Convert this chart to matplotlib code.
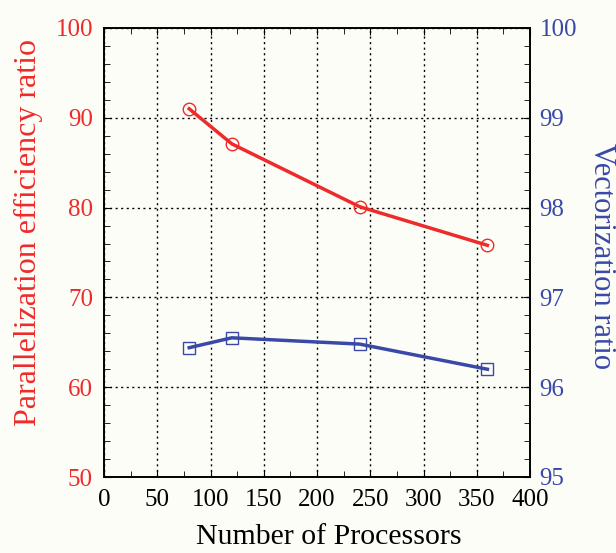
import matplotlib
matplotlib.use("Agg")
import matplotlib.pyplot as plt
from matplotlib.ticker import MultipleLocator

processors = [80, 120, 240, 360]
parallel_eff = [91.0, 87.1, 80.1, 75.8]
vector_ratio = [96.44, 96.55, 96.48, 96.20]

red = '#ee2b2b'
blue = '#3a48a8'
bg = '#fdfdf8'

plt.rcParams['font.family'] = ['Liberation Serif', 'DejaVu Serif']

fig = plt.figure(figsize=(6.16, 5.53), dpi=100, facecolor=bg)
ax = fig.add_axes([104/616, 1-477/553, 426/616, 449/553])
ax.set_facecolor(bg)
ax2 = ax.twinx()

ax.plot(processors, parallel_eff, color=red, lw=2.5, marker='o', ms=9,
        mfc='none', mec=red, mew=1.0, zorder=3)
ax2.plot(processors, vector_ratio, color=blue, lw=2.5, marker='s', ms=9,
         mfc='none', mec=blue, mew=1.0, zorder=3)

ax.set_xlim(0, 400)
ax.set_ylim(50, 100)
ax2.set_ylim(95, 100)

ax.xaxis.set_major_locator(MultipleLocator(50))
ax.xaxis.set_minor_locator(MultipleLocator(25))
ax.yaxis.set_major_locator(MultipleLocator(10))
ax.yaxis.set_minor_locator(MultipleLocator(2))
ax2.yaxis.set_major_locator(MultipleLocator(1))
ax2.yaxis.set_minor_locator(MultipleLocator(0.2))

ax.grid(True, which='major', color='black', linestyle=(0, (1.5, 2.5)), lw=1.0)

ax.tick_params(axis='x', which='both', direction='in', top=True, labelsize=18, pad=9, colors='black')
ax.tick_params(axis='x', which='major', length=5)
ax.tick_params(axis='x', which='minor', length=4)
ax.tick_params(axis='y', which='both', direction='in', labelsize=18, labelcolor=red, pad=8)
ax.tick_params(axis='y', which='major', length=5)
ax.tick_params(axis='y', which='minor', length=4)
ax2.tick_params(axis='y', which='both', direction='in', labelsize=18, labelcolor=blue, pad=7)
ax2.tick_params(axis='y', which='major', length=5)
ax2.tick_params(axis='y', which='minor', length=4)

for sp in list(ax.spines.values()) + list(ax2.spines.values()):
    sp.set_linewidth(1.2)

ax.set_xlabel('Number of Processors', fontsize=21.5, va='center')
ax.xaxis.set_label_coords((329-104)/426, -(537-477)/449)
ax.set_ylabel('Parallelization efficiency ratio', fontsize=23, color=red, va='center')
ax.yaxis.set_label_coords(-(104-28)/426, (477-232)/449)
ax2.set_ylabel('Vectorization ratio', fontsize=22, color=blue, rotation=270, va='center')
ax2.yaxis.set_label_coords(1 + (601-530)/426, (477-256)/449)

fig.savefig('out.png', dpi=100, facecolor=bg)
